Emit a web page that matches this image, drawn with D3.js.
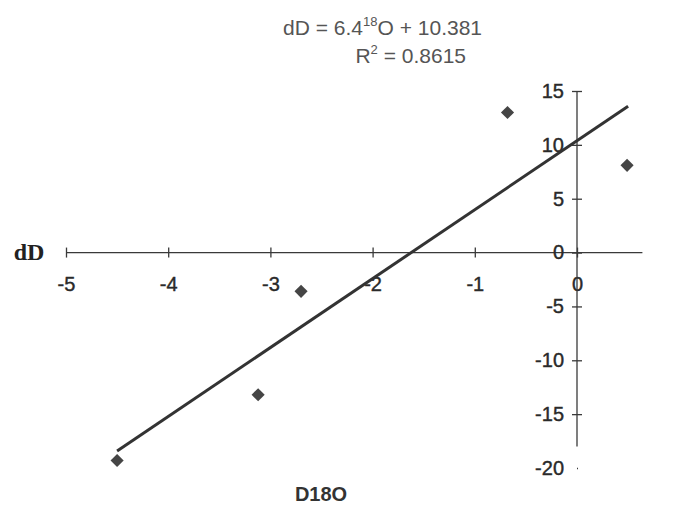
<!DOCTYPE html>
<html><head><meta charset="utf-8">
<script src="https://cdn.jsdelivr.net/npm/d3@7"></script>
<style>body{margin:0;background:#fff}svg{display:block}</style>
</head><body>
<svg id="c" width="677" height="506"></svg>
<script>
const xValues = [-4.50, -3.12, -2.70, -0.68, 0.49];
const yValues = [-19.3, -13.2, -3.6, 13.0, 8.1];
const slope = 6.4, intercept = 10.381;
const lineX = [-4.5, 0.5];
const xTicks = [-5, -4, -3, -2, -1, 0];
const yTicks = [-20, -15, -10, -5, 0, 5, 10, 15];
const eqText = "dD = 6.4";
const r2Text = "0.8615";

const svg = d3.select("#c");
const x = d3.scaleLinear().domain([-5, 0]).range([66, 577]);
const y = d3.scaleLinear().domain([-20, 15]).range([468, 91]);
const ink = "#3a3a3a";
const fmt = d => String(d);

// x axis at y=0
const xa = svg.append("g").attr("transform", `translate(0,${y(0)})`)
  .call(d3.axisBottom(x).tickValues(xTicks).tickSizeInner(0).tickSizeOuter(0).tickFormat(fmt));
xa.select(".domain").attr("d", `M${x(-5)},0H${x(0.64)}`).attr("stroke", ink).attr("stroke-width", 1.3);
xa.selectAll(".tick line").attr("y1", -5).attr("y2", 5).attr("stroke", ink).attr("stroke-width", 1.3);
xa.selectAll(".tick text").attr("y", 24).attr("font-family", "Liberation Sans, Arial").attr("font-size", 20)
  .attr("fill", "#2a2a2a").attr("stroke", "#2a2a2a").attr("stroke-width", 0.4);

// y axis at x=0
const ya = svg.append("g").attr("transform", `translate(${x(0)},0)`)
  .call(d3.axisLeft(y).tickValues(yTicks).tickSizeInner(0).tickSizeOuter(0).tickFormat(fmt));
ya.select(".domain").attr("d", `M0,${y(15)}V${y(-18)}`).attr("stroke", ink).attr("stroke-width", 1.3);
ya.selectAll(".tick line").attr("x1", -5).attr("x2", 5).attr("stroke", ink).attr("stroke-width", 1.3)
  .filter(d => d === -20).attr("x1", 0).attr("x2", 1);
ya.selectAll(".tick text").attr("x", -13).attr("font-family", "Liberation Sans, Arial").attr("font-size", 20)
  .attr("fill", "#2a2a2a").attr("stroke", "#2a2a2a").attr("stroke-width", 0.4);

// regression line
svg.append("line")
  .attr("x1", x(lineX[0])).attr("y1", y(slope * lineX[0] + intercept))
  .attr("x2", x(lineX[1])).attr("y2", y(slope * lineX[1] + intercept))
  .attr("stroke", "#333").attr("stroke-width", 3);

// points
svg.selectAll("path.pt").data(xValues.map((v, i) => [v, yValues[i]])).join("path")
  .attr("class", "pt")
  .attr("d", d3.symbol(d3.symbolDiamond2, 110)())
  .attr("transform", d => `translate(${x(d[0])},${y(d[1])})`)
  .attr("fill", "#454545");

// equation
const eq = svg.append("text").attr("x", 482).attr("y", 35).attr("text-anchor", "end")
  .attr("font-family", "Liberation Sans, Arial").attr("font-size", 21).attr("fill", "#555");
eq.append("tspan").text(eqText);
eq.append("tspan").attr("dy", -9).attr("font-size", 13).text("18");
eq.append("tspan").attr("dy", 9).text("O + 10.381");
const r2 = svg.append("text").attr("x", 466).attr("y", 63).attr("text-anchor", "end")
  .attr("font-family", "Liberation Sans, Arial").attr("font-size", 21).attr("fill", "#555");
r2.append("tspan").text("R");
r2.append("tspan").attr("dy", -9).attr("font-size", 13).text("2");
r2.append("tspan").attr("dy", 9).text(" = " + r2Text);

// axis titles
svg.append("text").attr("x", 29).attr("y", 260).attr("text-anchor", "middle")
  .attr("font-family", "Liberation Serif, Times New Roman").attr("font-weight", "bold").attr("font-size", 24).attr("fill", "#222").text("dD");
svg.append("text").attr("x", 321).attr("y", 501).attr("text-anchor", "middle")
  .attr("font-family", "Liberation Sans, Arial").attr("font-weight", "bold").attr("font-size", 20).attr("fill", "#333").text("D18O");
</script>
</body></html>
